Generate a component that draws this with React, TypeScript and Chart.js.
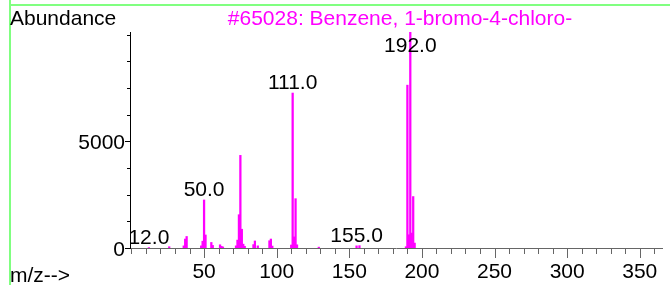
import React, { useEffect, useRef } from "react";
import { Chart, registerables } from "chart.js";

Chart.register(...registerables);

// ---- data ----
const mzValues: number[] = [12, 26, 36, 37, 38, 48, 49, 50, 51, 55, 56, 61, 62, 63, 72, 73, 74, 75, 76, 77, 78, 84, 85, 87, 95, 96, 97, 110, 111, 112, 113, 114, 129, 155, 157, 189, 190, 191, 192, 193, 194, 195];
const abundanceValues: number[] = [20, 60, 100, 420, 540, 100, 320, 2250, 610, 260, 120, 150, 80, 50, 100, 370, 1560, 4340, 880, 180, 80, 160, 330, 100, 340, 420, 90, 140, 7260, 520, 2310, 150, 40, 100, 110, 60, 7630, 620, 10120, 700, 2410, 230];
const labeledPeaks: number[] = [12, 50, 111, 155, 192];
const xMajorTicks: number[] = [50, 100, 150, 200, 250, 300, 350];
const yMajorTicks: number[] = [0, 5000];
const titleText = "#65028: Benzene, 1-bromo-4-chloro-";
const yAxisTitle = "Abundance";
const xAxisTitle = "m/z-->";

const X_MIN = -1;
const X_MAX = 366;
const Y_MAX = 10120;
const X_MINOR_STEP = 10;
const Y_MINOR_STEP = 1250;

const FONT = '21px "Liberation Sans", Arial, sans-serif';

const overlayPlugin = {
  id: "msOverlay",
  afterDraw(chart: any) {
    const ctx = chart.ctx as CanvasRenderingContext2D;
    const xs = chart.scales.x;
    const ys = chart.scales.y;
    const area = chart.chartArea;
    ctx.save();

    // green frame
    ctx.fillStyle = "rgb(128,255,128)";
    ctx.fillRect(9, 0, 2, chart.height);
    ctx.fillRect(9, 4, chart.width - 9, 2);

    const y0 = ys.getPixelForValue(0);
    const xLeft = area.left;
    const xRight = area.right;

    // x axis line
    ctx.strokeStyle = "#666";
    ctx.lineWidth = 1;
    ctx.beginPath();
    ctx.moveTo(xLeft, Math.round(y0) + 0.5);
    ctx.lineTo(xRight, Math.round(y0) + 0.5);
    ctx.stroke();

    // x ticks
    for (let v = 0; v <= X_MAX; v += X_MINOR_STEP) {
      const px = Math.round(xs.getPixelForValue(v)) + 0.5;
      const major = xMajorTicks.includes(v);
      ctx.beginPath();
      ctx.moveTo(px, Math.round(y0));
      ctx.lineTo(px, Math.round(y0) + (major ? 10 : 6));
      ctx.stroke();
    }

    // y axis line
    ctx.strokeStyle = "#000";
    ctx.beginPath();
    ctx.moveTo(xLeft + 0.5, area.top);
    ctx.lineTo(xLeft + 0.5, Math.round(y0) + 1);
    ctx.stroke();

    // y ticks
    for (let v = 0; v <= Y_MAX; v += Y_MINOR_STEP) {
      const py = Math.round(ys.getPixelForValue(v)) + 0.5;
      const major = yMajorTicks.includes(v);
      ctx.beginPath();
      ctx.moveTo(xLeft - (major ? 5 : 3), py);
      ctx.lineTo(xLeft, py);
      ctx.stroke();
    }

    ctx.font = FONT;
    ctx.fillStyle = "#000";

    // x tick labels
    ctx.textAlign = "center";
    ctx.textBaseline = "alphabetic";
    xMajorTicks.forEach((v) => {
      ctx.fillText(String(v), xs.getPixelForValue(v), y0 + 30);
    });

    // y tick labels
    ctx.textAlign = "right";
    yMajorTicks.forEach((v) => {
      ctx.fillText(String(v), xLeft - 5, ys.getPixelForValue(v) + 7.5);
    });

    // peak labels
    ctx.textAlign = "center";
    labeledPeaks.forEach((m) => {
      const i = mzValues.indexOf(m);
      if (i < 0) return;
      const px = xs.getPixelForValue(m);
      let py = ys.getPixelForValue(abundanceValues[i]) - 4;
      if (py < area.top + 20) py = area.top + 20;
      ctx.fillText(m.toFixed(1), px, py);
    });

    // axis titles
    ctx.textAlign = "left";
    ctx.fillText(yAxisTitle, 10, 25);
    ctx.fillText(xAxisTitle, 10, 282);

    // title
    ctx.fillStyle = "#ff00ff";
    ctx.textAlign = "center";
    ctx.fillText(titleText, 400, 25);

    ctx.restore();
  },
};

export default function App() {
  const canvasRef = useRef<HTMLCanvasElement | null>(null);

  useEffect(() => {
    if (!canvasRef.current) return;
    const chart = new Chart(canvasRef.current, {
      type: "bar",
      data: {
        datasets: [
          {
            data: mzValues.map((m, i) => ({ x: m, y: abundanceValues[i] })),
            backgroundColor: "#ff00ff",
            borderWidth: 0,
            barThickness: 1.6,
            grouped: false,
          } as any,
        ],
      },
      options: {
        animation: false,
        responsive: false,
        devicePixelRatio: 1,
        layout: { padding: { left: 130, top: 32, right: 7, bottom: 37 } },
        plugins: { legend: { display: false }, tooltip: { enabled: false }, title: { display: false } },
        scales: {
          x: { type: "linear", min: X_MIN, max: X_MAX, offset: false, display: false },
          y: { type: "linear", min: 0, max: Y_MAX, display: false },
        },
      },
      plugins: [overlayPlugin],
    });
    return () => chart.destroy();
  }, []);

  return (
    <div style={{ position: "absolute", left: 0, top: 0, width: 670, height: 285, background: "#fff" }}>
      <canvas ref={canvasRef} width={670} height={285} style={{ display: "block" }} />
    </div>
  );
}
